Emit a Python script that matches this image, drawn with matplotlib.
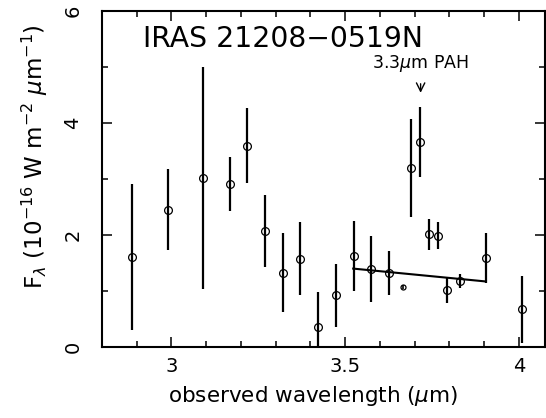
import matplotlib
matplotlib.use("Agg")
import matplotlib.pyplot as plt
from matplotlib.ticker import MultipleLocator

# data (wavelength in micron, flux in 1e-16 W m^-2 um^-1)
wave = [2.885, 2.99, 3.09, 3.168, 3.218, 3.268, 3.32, 3.37, 3.422, 3.473,
        3.524, 3.574, 3.626, 3.69, 3.716, 3.741, 3.766, 3.792, 3.83, 3.905, 4.009]
flux = [1.61, 2.45, 3.02, 2.91, 3.59, 2.07, 1.33, 1.58, 0.35, 0.92,
        1.625, 1.40, 1.32, 3.20, 3.66, 2.01, 1.99, 1.01, 1.18, 1.59, 0.67]
ferr = [1.30, 0.72, 1.98, 0.48, 0.67, 0.64, 0.70, 0.66, 0.63, 0.57,
        0.63, 0.59, 0.39, 0.87, 0.62, 0.27, 0.24, 0.23, 0.13, 0.44, 0.59]

# small-symbol point
wave_small = [3.665]
flux_small = [1.07]
ferr_small = [0.04]

# continuum fit line
cont_x = [3.523, 3.905]
cont_y = [1.40, 1.17]

title = "IRAS 21208\u22120519N"
pah_label = "3.3$\\mu$m PAH"
pah_x = 3.717

plt.rcParams['font.family'] = ['DejaVu Sans']
plt.rcParams['mathtext.fontset'] = 'dejavusans'

fig = plt.figure(figsize=(5.46, 4.18), dpi=100)
ax = fig.add_axes([102/546, 71/418, 443/546, 336/418])

ax.errorbar(wave, flux, yerr=ferr, fmt='o', mfc='none', mec='black', ms=5.6,
            mew=0.9, ecolor='black', elinewidth=1.6, capsize=0, color='black')
ax.errorbar(wave_small, flux_small, yerr=ferr_small, fmt='o', mfc='none', mec='black',
            ms=3.6, mew=0.9, ecolor='black', elinewidth=1.2, capsize=0)
ax.plot(cont_x, cont_y, color='black', lw=1.5)

ax.set_xlim(2.8, 4.075)
ax.set_ylim(0, 6)

ax.xaxis.set_major_locator(MultipleLocator(0.5))
ax.xaxis.set_minor_locator(MultipleLocator(0.1))
ax.yaxis.set_major_locator(MultipleLocator(2))
ax.yaxis.set_minor_locator(MultipleLocator(1))
ax.xaxis.set_major_formatter(plt.FuncFormatter(lambda v, p: f"{v:g}"))
ax.yaxis.set_major_formatter(plt.FuncFormatter(lambda v, p: f"{v:g}"))

ax.tick_params(which='both', direction='in', top=True, right=True, width=1.1, colors='black')
ax.tick_params(which='major', length=7.5)
ax.tick_params(which='minor', length=4)
ax.tick_params(axis='x', which='major', labelsize=14, pad=7)
ax.tick_params(axis='y', which='major', labelsize=14, pad=14)
for lab in ax.get_yticklabels():
    lab.set_rotation(90)
    lab.set_va('center')
for sp in ax.spines.values():
    sp.set_linewidth(1.5)

ax.set_xlabel("observed wavelength ($\\mu$m)", fontsize=15.5)
ax.xaxis.set_label_coords(0.476, -0.109)
ax.set_ylabel("F$_\\lambda$ (10$^{-16}$ W m$^{-2}$ $\\mu$m$^{-1}$)", fontsize=16.5)
ax.yaxis.set_label_coords(-0.118, 0.567)

ax.text(2.917, 5.36, title, fontsize=20.3, ha='left', va='baseline')
ax.text(pah_x, 4.98, pah_label, fontsize=12.5, ha='center', va='baseline')
ax.annotate('', xy=(pah_x, 4.49), xytext=(pah_x, 4.75),
            arrowprops=dict(arrowstyle='->', lw=1.0, color='black', mutation_scale=15))

fig.savefig("out.png", dpi=100)
